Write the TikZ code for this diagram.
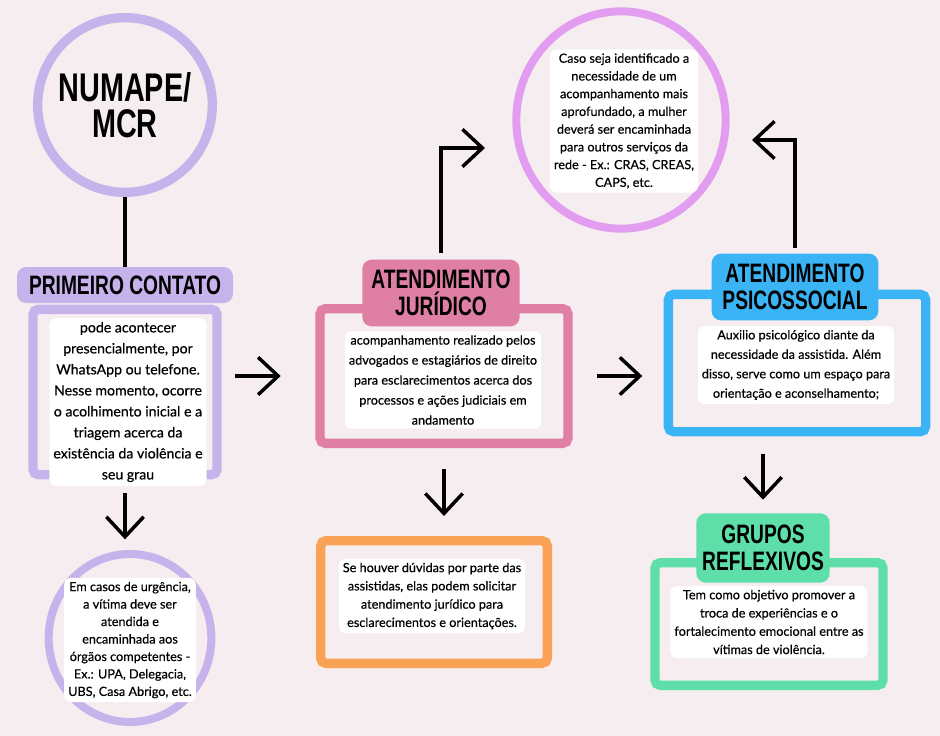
\documentclass[tikz,border=0pt]{standalone}
\usepackage{fontspec}
\setmainfont[FakeBold=0.5]{Lato}
\newfontfamily\titlefont[FakeStretch=0.72]{Liberation Sans}
\usetikzlibrary{arrows.meta,shapes.geometric}
\definecolor{fundo}{HTML}{F5EDEF}
\definecolor{lilas}{HTML}{C6B3EB}
\definecolor{rosa}{HTML}{DF7FA4}
\definecolor{violeta}{HTML}{E29CF0}
\definecolor{azul}{HTML}{3BB4F6}
\definecolor{verde}{HTML}{5EDFA9}
\definecolor{laranja}{HTML}{F9A154}
\begin{document}
\begin{tikzpicture}[x=0.75pt,y=-0.75pt,
	caixa/.style={draw=#1,line width=7pt,rounded corners=4pt},
	titulo/.style={fill=#1,rounded corners=7pt,inner sep=0pt,align=center,font=\titlefont\bfseries\fontsize{20}{20}\selectfont},
	texto/.style={fill=white,rounded corners=5pt,inner sep=3pt,align=center,font=\fontsize{9.5}{#1}\selectfont},
	texto/.default=14pt,
	seta/.style={line width=2.6pt,-{Straight Barb[length=15pt,width=28pt]}}]
	\path[use as bounding box,fill=fundo](0,0)rectangle(940,736);
	% caixas
	\node[circle,draw=lilas,line width=7pt,minimum size=131pt,align=center,font=\titlefont\bfseries\fontsize{30}{27}\selectfont](numape)at(125,105){NUMAPE/\\MCR};
	\node[caixa=lilas,minimum width=138pt,minimum height=124pt](pc)at(125,392){};
	\node[titulo=lilas,minimum width=162pt,minimum height=27pt](pct)at(125,285){PRIMEIRO CONTATO};
	\node[texto,font=\fontsize{10.6}{15.75}\selectfont](pctx)at(128,402){pode acontecer\\presencialmente, por\\WhatsApp ou telefone.\\Nesse momento, ocorre\\o acolhimento inicial e a\\triagem acerca da\\existência da violência e\\seu grau};
	\node[caixa=rosa,minimum width=186pt,minimum height=101pt](aj)at(444,376){};
	\node[titulo=rosa,minimum width=118pt,minimum height=50pt](ajt)at(441,293){ATENDIMENTO\\JURÍDICO};
	\node[texto=15pt](ajtx)at(443,380){acompanhamento realizado pelos\\advogados e estagiários de direito\\para esclarecimentos acerca dos\\processos e ações judiciais em\\andamento};
	\node[ellipse,draw=violeta,line width=6pt,minimum width=157pt,minimum height=163pt](rede)at(621,120){};
	\node[texto=13.3pt](redetx)at(624,121){Caso seja identificado a\\necessidade de um\\acompanhamento mais\\aprofundado, a mulher\\deverá ser encaminhada\\para outros serviços da\\rede - Ex.: CRAS, CREAS,\\CAPS, etc.};
	\node[caixa=azul,minimum width=193pt,minimum height=103pt](ps)at(797,363){};
	\node[titulo=azul,minimum width=125pt,minimum height=50pt](pst)at(795,287){ATENDIMENTO\\PSICOSSOCIAL};
	\node[texto=14.6pt](pstx)at(796,365){Auxilio psicológico diante da\\necessidade da assistida. Além\\disso, serve como um espaço para\\orientação e aconselhamento;};
	\node[caixa=verde,minimum width=171pt,minimum height=92pt](gr)at(769,624){};
	\node[titulo=verde,minimum width=100pt,minimum height=52pt](grt)at(763,548){GRUPOS\\REFLEXIVOS};
	\node[texto=13.7pt](grtx)at(769,622){Tem como objetivo promover a\\troca de experiências e o\\fortalecimento emocional entre as\\vítimas de violência.};
	\node[caixa=laranja,minimum width=170pt,minimum height=92pt](duv)at(434,602){};
	\node[texto=13.7pt](duvtx)at(432,596){Se houver dúvidas por parte das\\assistidas, elas podem solicitar\\atendimento jurídico para\\esclarecimentos e orientações.};
	\node[ellipse,draw=lilas,line width=6pt,minimum width=122pt,minimum height=126pt](urg)at(130,638){};
	\node[texto=13.1pt](urgtx)at(130,640){Em casos de urgência,\\a vítima deve ser\\atendida e\\encaminhada aos\\órgãos competentes -\\Ex.: UPA, Delegacia,\\UBS, Casa Abrigo, etc.};
	% ligacoes
	\coordinate(ajseta)at(485,148);
	\coordinate(psseta)at(752,140);
	\draw[line width=2.8pt](numape)--(pct);
	\draw[seta,shorten <=10pt,shorten >=26pt](pc.east|-aj.west)--(aj.west);
	\draw[seta,shorten <=18pt,shorten >=16pt](aj.east)--(aj.east-|ps.west);
	\draw[seta,shorten <=10pt,shorten >=8pt](pc.south)--(pc.south|-urg.north);
	\draw[seta,shorten <=16pt,shorten >=15pt](aj.south)--(aj.south|-duv.north);
	\draw[seta,shorten <=13pt,shorten >=10pt](grt.north|-ps.south)--(grt.north);
	\draw[seta,shorten <=5pt](ajt.north)|-(ajseta);
	\draw[seta,shorten <=4pt](pst.north)|-(psseta);
\end{tikzpicture}
\end{document}
